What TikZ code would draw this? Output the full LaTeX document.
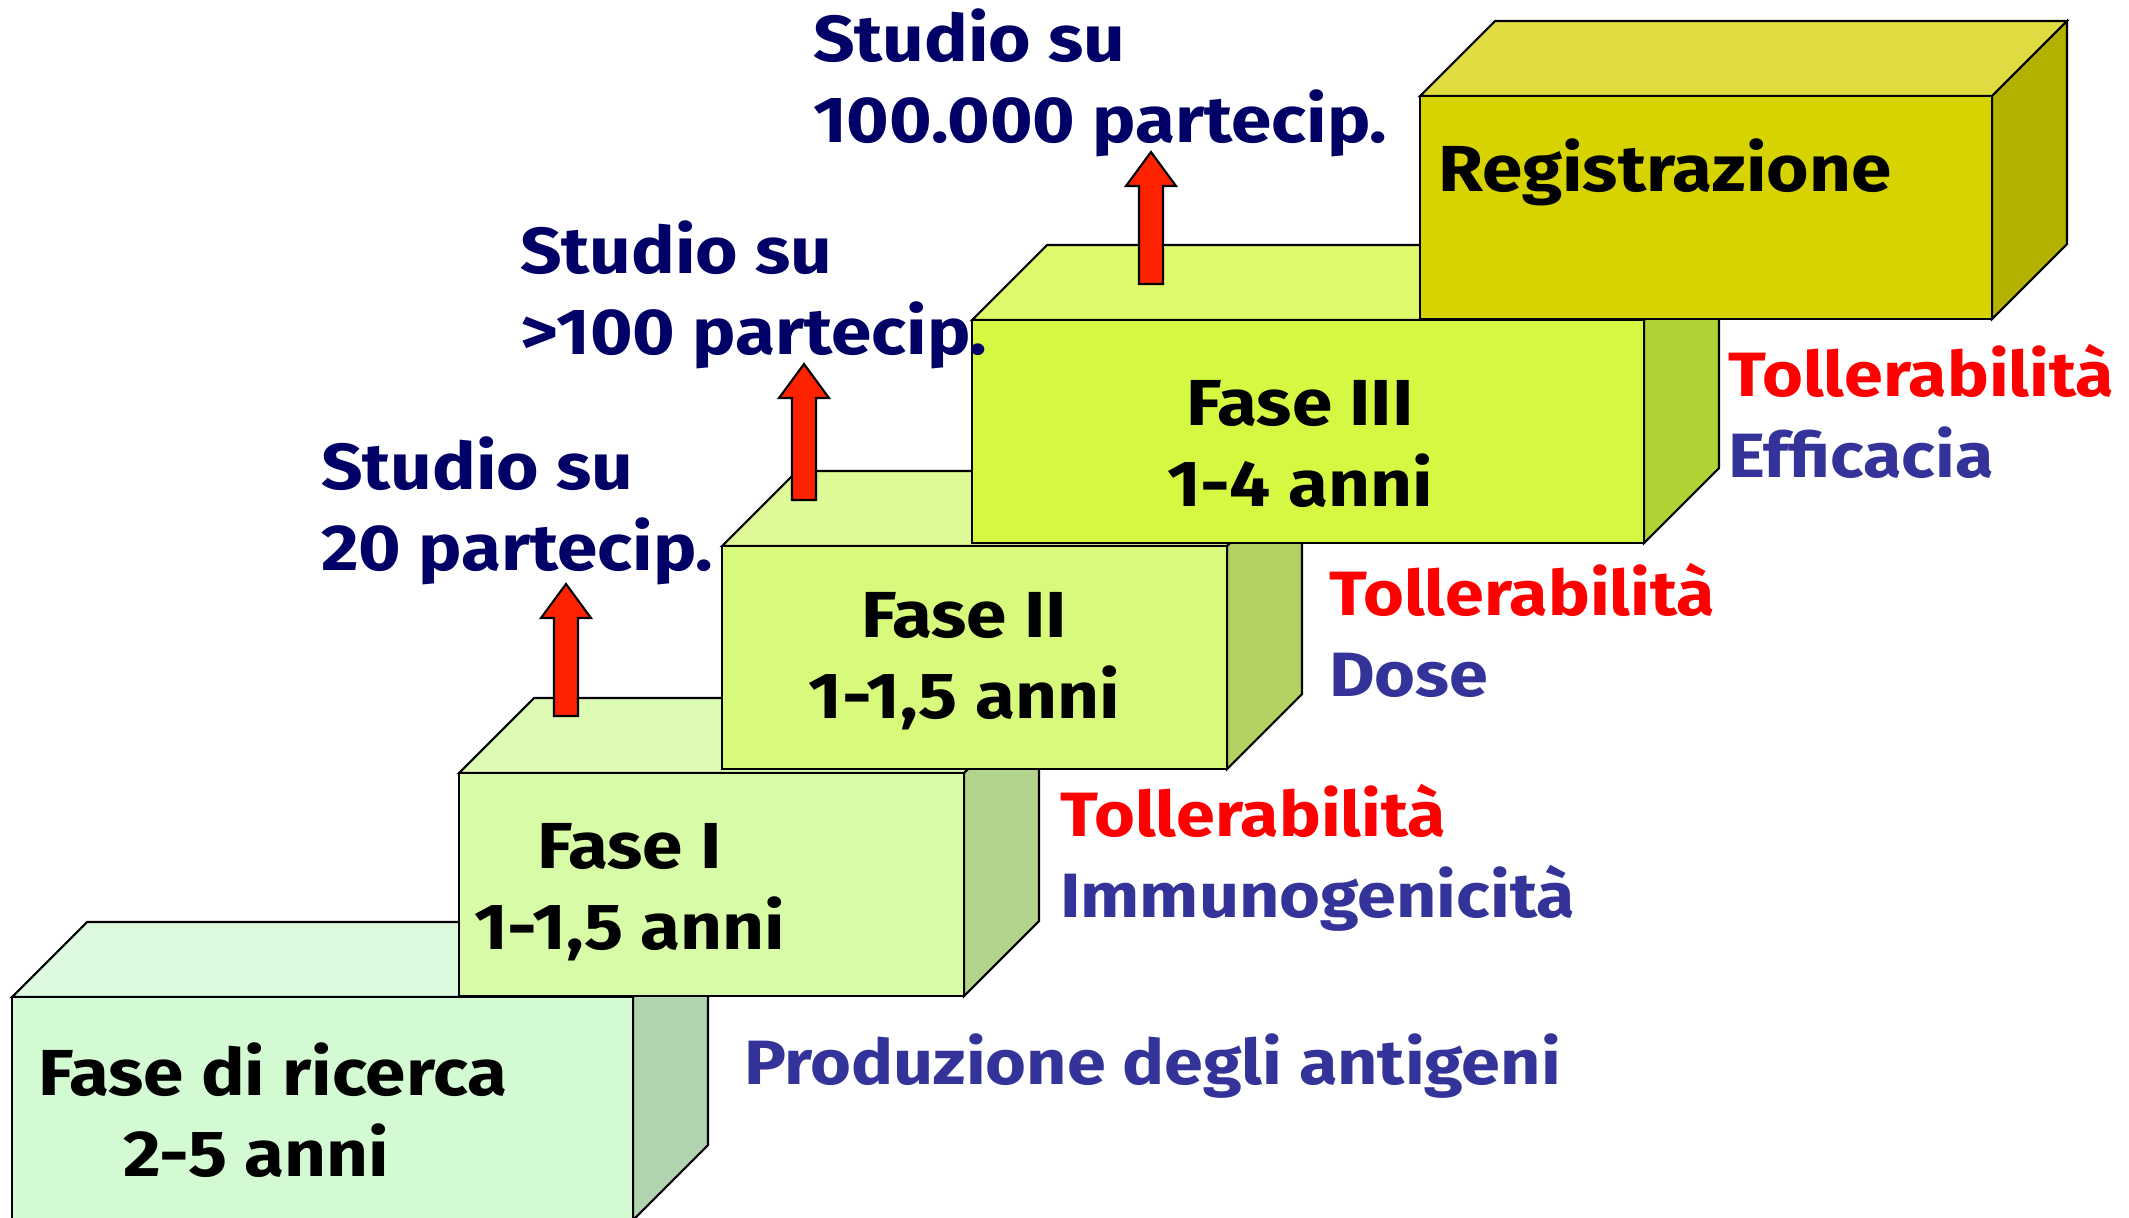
\documentclass[tikz,border=0pt]{standalone}
\usepackage{fontspec}
\setmainfont{Fira Sans}[FakeStretch=1.12]
\usetikzlibrary{positioning}

\definecolor{ricercaF}{HTML}{D4FAD4}
\definecolor{ricercaT}{HTML}{DEFADE}
\definecolor{ricercaS}{HTML}{B0D3B0}
\definecolor{faseIF}{HTML}{D8FBA8}
\definecolor{faseIT}{HTML}{DEFBB6}
\definecolor{faseIS}{HTML}{B3D48C}
\definecolor{faseIIF}{HTML}{D7F97C}
\definecolor{faseIIT}{HTML}{DEFA96}
\definecolor{faseIIS}{HTML}{B2D162}
\definecolor{faseIIIF}{HTML}{D5F942}
\definecolor{faseIIIT}{HTML}{DEF96C}
\definecolor{faseIIIS}{HTML}{B1D234}
\definecolor{regF}{HTML}{D6D300}
\definecolor{regT}{HTML}{DEDC40}
\definecolor{regS}{HTML}{B4B200}
\definecolor{studynavy}{HTML}{000066}
\definecolor{tolred}{HTML}{FF0000}
\definecolor{noteblue}{HTML}{333399}
\definecolor{arrowred}{HTML}{FF2200}

% one step of the stair: x, y of front top-left, width, front, top, side colour
\newcommand{\stepbox}[6]{%
  \filldraw[fill=#5] (#1,#2) -- ++(75,-75) -- ++(#3,0) -- ++(-75,75) -- cycle;
  \filldraw[fill=#6] (#1+#3,#2) -- ++(75,-75) -- ++(0,223) -- ++(-75,75) -- cycle;
  \filldraw[fill=#4] (#1,#2) rectangle ++(#3,223);
}

\tikzset{
  boxtext/.style={font=\fontsize{18.5}{23}\selectfont\bfseries, inner sep=0pt},
  studytext/.style={boxtext, text=studynavy, align=left, anchor=west},
  notetext/.style={font=\fontsize{17.8}{23}\selectfont\bfseries, inner sep=0pt, text=noteblue, align=left, anchor=west},
}

\begin{document}
\begin{tikzpicture}[x=0.01cm,y=-0.01cm,line width=0.6pt]

    \useasboundingbox (0,0) rectangle (2129,1217);
    \clip (0,0) rectangle (2129,1217);

    % stair boxes, back to front
    \stepbox{12}{997}{621}{ricercaF}{ricercaT}{ricercaS}
    \stepbox{459}{773}{505}{faseIF}{faseIT}{faseIS}
    \stepbox{722}{546}{505}{faseIIF}{faseIIT}{faseIIS}
    \stepbox{972}{320}{672}{faseIIIF}{faseIIIT}{faseIIIS}
    \stepbox{1420}{96}{572}{regF}{regT}{regS}

    % up arrows on the top faces
    \foreach \c/\b/\t in {566/716/584, 804/500/364, 1151/284/152}
      \filldraw[fill=arrowred] (\c-12,\b) -- (\c-12,\t+34) -- (\c-25,\t+34) -- (\c,\t)
        -- (\c+25,\t+34) -- (\c+12,\t+34) -- (\c+12,\b) -- cycle;

    % box labels
    \node[boxtext, align=left, anchor=west] (ricerca) at (37,1110) {Fase di ricerca\\\hspace*{0.85cm}2-5 anni};
    \node[boxtext, align=left, anchor=west] (fase1) at (473,892) {\hspace*{0.63cm}Fase I\\1-1,5 anni};
    \node[boxtext, align=center] (fase2) at (964,661) {Fase II\\1-1,5 anni};
    \node[boxtext, align=center] (fase3) at (1300,444) {Fase III\\1-4 anni};
    \node[boxtext, anchor=west] (reg) at (1437,172) {Registrazione};

    % studies
    \node[studytext] (study1) at (320,511) {Studio su\\20 partecip.};
    \node[studytext] (study2) at (519,295) {Studio su\\>100 partecip.};
    \node[studytext] (study3) at (812,83) {Studio su\\100.000 partecip.};

    % aims
    \node[notetext] (aim0) at (743,1066) {Produzione degli antigeni};
    \node[notetext] (aim1) at (1059,858) {\textcolor{tolred}{Tollerabilità}\\Immunogenicità};
    \node[notetext] (aim2) at (1328,630) {\textcolor{tolred}{Tollerabilità}\\Dose};
    \node[notetext] (aim3) at (1727,411) {\textcolor{tolred}{Tollerabilità}\\Efficacia};

\end{tikzpicture}
\end{document}
